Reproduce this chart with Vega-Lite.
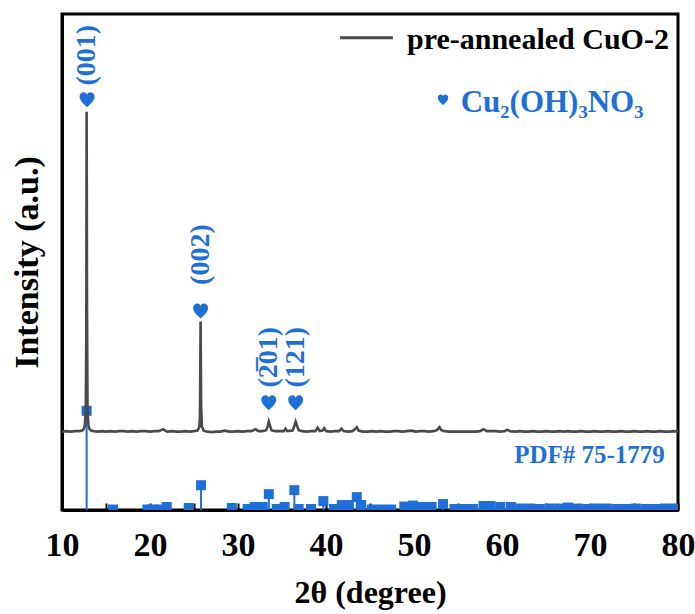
{
  "$schema": "https://vega.github.io/schema/vega-lite/v6.json",
  "width": 616,
  "height": 496,
  "autosize": {"type": "none"},
  "padding": {"left": 62, "top": 14, "right": 17, "bottom": 104},
  "background": "white",
  "config": {
    "view": {"stroke": "black", "strokeWidth": 3},
    "font": "Liberation Serif, Times New Roman, serif"
  },
  "datasets": {
    "xrd": [
      {"t": 10.0, "i": 15.8}, {"t": 10.5, "i": 15.9}, {"t": 11.0, "i": 15.8}, {"t": 11.5, "i": 15.9},
      {"t": 12.0, "i": 15.9}, {"t": 12.3, "i": 16.0}, {"t": 12.5, "i": 16.4}, {"t": 12.6, "i": 17.2},
      {"t": 12.7, "i": 19.8}, {"t": 12.76, "i": 35.0}, {"t": 12.8, "i": 80.3}, {"t": 12.84, "i": 42.0},
      {"t": 12.9, "i": 20.0}, {"t": 13.0, "i": 17.2}, {"t": 13.1, "i": 16.4}, {"t": 13.3, "i": 16.0},
      {"t": 13.6, "i": 15.9}, {"t": 14.0, "i": 15.8}, {"t": 14.5, "i": 15.9}, {"t": 15.0, "i": 15.8},
      {"t": 15.5, "i": 15.9}, {"t": 16.0, "i": 15.8}, {"t": 16.5, "i": 15.9}, {"t": 17.0, "i": 15.9},
      {"t": 17.5, "i": 15.8}, {"t": 18.0, "i": 15.9}, {"t": 18.5, "i": 15.8}, {"t": 19.0, "i": 15.9},
      {"t": 19.5, "i": 15.9}, {"t": 20.0, "i": 15.8}, {"t": 20.5, "i": 15.9}, {"t": 21.0, "i": 15.9},
      {"t": 21.5, "i": 16.3}, {"t": 21.8, "i": 15.9}, {"t": 22.0, "i": 15.8}, {"t": 22.5, "i": 15.9},
      {"t": 23.0, "i": 15.8}, {"t": 23.5, "i": 15.8}, {"t": 24.0, "i": 15.9}, {"t": 24.5, "i": 15.8},
      {"t": 25.0, "i": 15.9}, {"t": 25.4, "i": 16.0}, {"t": 25.6, "i": 16.7}, {"t": 25.68, "i": 19.0},
      {"t": 25.75, "i": 38.0}, {"t": 25.81, "i": 21.0}, {"t": 25.9, "i": 16.8}, {"t": 26.1, "i": 16.0},
      {"t": 26.5, "i": 15.8}, {"t": 27.0, "i": 15.7}, {"t": 27.5, "i": 15.8}, {"t": 28.0, "i": 15.8},
      {"t": 28.5, "i": 16.0}, {"t": 29.0, "i": 15.8}, {"t": 29.5, "i": 15.8}, {"t": 30.0, "i": 15.9},
      {"t": 30.5, "i": 15.8}, {"t": 31.0, "i": 15.9}, {"t": 31.5, "i": 15.9}, {"t": 32.0, "i": 16.3},
      {"t": 32.3, "i": 15.9}, {"t": 32.8, "i": 15.9}, {"t": 33.2, "i": 16.1}, {"t": 33.4, "i": 17.0},
      {"t": 33.5, "i": 17.8}, {"t": 33.6, "i": 17.2}, {"t": 33.8, "i": 16.1}, {"t": 34.2, "i": 15.9},
      {"t": 34.7, "i": 15.9}, {"t": 35.2, "i": 15.9}, {"t": 35.4, "i": 16.4}, {"t": 35.6, "i": 15.9},
      {"t": 36.2, "i": 16.0}, {"t": 36.4, "i": 16.9}, {"t": 36.55, "i": 17.8}, {"t": 36.7, "i": 17.0},
      {"t": 36.9, "i": 16.1}, {"t": 37.3, "i": 15.9}, {"t": 37.8, "i": 15.8}, {"t": 38.3, "i": 15.9},
      {"t": 38.8, "i": 15.9}, {"t": 39.05, "i": 16.6}, {"t": 39.3, "i": 15.9}, {"t": 39.6, "i": 16.0},
      {"t": 39.8, "i": 16.5}, {"t": 40.0, "i": 15.9}, {"t": 40.5, "i": 15.8}, {"t": 41.0, "i": 15.9},
      {"t": 41.5, "i": 15.9}, {"t": 41.75, "i": 16.4}, {"t": 42.0, "i": 15.9}, {"t": 42.5, "i": 15.8},
      {"t": 43.0, "i": 15.9}, {"t": 43.3, "i": 16.3}, {"t": 43.5, "i": 16.7}, {"t": 43.7, "i": 16.0},
      {"t": 44.2, "i": 15.8}, {"t": 44.7, "i": 15.8}, {"t": 45.2, "i": 15.9}, {"t": 45.7, "i": 15.8},
      {"t": 46.2, "i": 15.9}, {"t": 46.7, "i": 15.8}, {"t": 47.2, "i": 15.8}, {"t": 47.7, "i": 15.9},
      {"t": 48.2, "i": 15.9}, {"t": 48.7, "i": 15.8}, {"t": 49.2, "i": 15.9}, {"t": 49.7, "i": 16.0},
      {"t": 50.2, "i": 15.8}, {"t": 50.7, "i": 15.9}, {"t": 51.2, "i": 15.9}, {"t": 51.7, "i": 15.8},
      {"t": 52.2, "i": 15.9}, {"t": 52.6, "i": 16.1}, {"t": 52.9, "i": 16.7}, {"t": 53.1, "i": 16.1},
      {"t": 53.5, "i": 15.9}, {"t": 54.0, "i": 15.8}, {"t": 54.5, "i": 15.8}, {"t": 55.0, "i": 15.8},
      {"t": 55.5, "i": 15.8}, {"t": 56.0, "i": 15.8}, {"t": 56.5, "i": 15.8}, {"t": 57.0, "i": 15.8},
      {"t": 57.5, "i": 15.9}, {"t": 57.9, "i": 16.3}, {"t": 58.3, "i": 15.9}, {"t": 58.8, "i": 15.9},
      {"t": 59.3, "i": 15.9}, {"t": 59.8, "i": 15.8}, {"t": 60.3, "i": 15.9}, {"t": 60.6, "i": 16.2},
      {"t": 60.9, "i": 15.9}, {"t": 61.5, "i": 15.8}, {"t": 62.0, "i": 15.9}, {"t": 62.5, "i": 15.8},
      {"t": 63.0, "i": 15.8}, {"t": 63.5, "i": 15.9}, {"t": 64.0, "i": 15.8}, {"t": 64.5, "i": 15.8},
      {"t": 65.0, "i": 15.9}, {"t": 65.5, "i": 15.8}, {"t": 66.0, "i": 15.8}, {"t": 66.5, "i": 15.9},
      {"t": 67.0, "i": 15.8}, {"t": 67.5, "i": 15.9}, {"t": 68.0, "i": 15.8}, {"t": 68.5, "i": 15.8},
      {"t": 69.0, "i": 15.9}, {"t": 69.5, "i": 15.8}, {"t": 70.0, "i": 15.8}, {"t": 70.5, "i": 15.9},
      {"t": 71.0, "i": 15.8}, {"t": 71.5, "i": 15.8}, {"t": 72.0, "i": 15.9}, {"t": 72.5, "i": 15.8},
      {"t": 73.0, "i": 15.8}, {"t": 73.5, "i": 15.9}, {"t": 74.0, "i": 15.8}, {"t": 74.5, "i": 15.8},
      {"t": 75.0, "i": 15.9}, {"t": 75.5, "i": 15.8}, {"t": 76.0, "i": 15.8}, {"t": 76.5, "i": 15.9},
      {"t": 77.0, "i": 15.8}, {"t": 77.5, "i": 15.8}, {"t": 78.0, "i": 15.9}, {"t": 78.5, "i": 15.8},
      {"t": 79.0, "i": 15.8}, {"t": 79.5, "i": 15.9}, {"t": 80.0, "i": 15.8}
    ],
    "pdf": [
      {"t": 12.8, "h": 20.0}, {"t": 15.8, "h": 0.1}, {"t": 19.7, "h": 0.1}, {"t": 20.3, "h": 0.1},
      {"t": 21.2, "h": 0.1}, {"t": 21.9, "h": 0.6}, {"t": 24.4, "h": 0.4}, {"t": 25.8, "h": 5.0},
      {"t": 29.3, "h": 0.4}, {"t": 31.1, "h": 0.2}, {"t": 31.9, "h": 0.6}, {"t": 32.8, "h": 0.6},
      {"t": 33.5, "h": 3.2}, {"t": 34.4, "h": 0.2}, {"t": 35.3, "h": 0.6}, {"t": 36.4, "h": 4.0},
      {"t": 36.9, "h": 0.2}, {"t": 38.3, "h": 0.2}, {"t": 39.7, "h": 1.8}, {"t": 40.9, "h": 0.2},
      {"t": 41.8, "h": 1.0}, {"t": 42.6, "h": 1.0}, {"t": 43.5, "h": 2.6}, {"t": 44.0, "h": 1.0},
      {"t": 45.2, "h": 0.1}, {"t": 46.3, "h": 0.1}, {"t": 47.4, "h": 0.1}, {"t": 48.9, "h": 0.7},
      {"t": 49.9, "h": 0.9}, {"t": 51.0, "h": 0.6}, {"t": 52.0, "h": 0.6}, {"t": 53.3, "h": 1.2},
      {"t": 54.6, "h": 0.2}, {"t": 55.6, "h": 0.2}, {"t": 56.7, "h": 0.2}, {"t": 57.9, "h": 0.8},
      {"t": 58.7, "h": 0.8}, {"t": 59.8, "h": 0.6}, {"t": 61.0, "h": 0.6}, {"t": 62.1, "h": 0.3},
      {"t": 63.2, "h": 0.3}, {"t": 64.3, "h": 0.2}, {"t": 65.4, "h": 0.3}, {"t": 66.5, "h": 0.3},
      {"t": 67.5, "h": 0.5}, {"t": 68.6, "h": 0.3}, {"t": 69.7, "h": 0.2}, {"t": 70.8, "h": 0.3},
      {"t": 71.9, "h": 0.3}, {"t": 73.0, "h": 0.2}, {"t": 74.1, "h": 0.2}, {"t": 75.2, "h": 0.3},
      {"t": 76.3, "h": 0.2}, {"t": 77.4, "h": 0.2}, {"t": 78.5, "h": 0.3}, {"t": 79.5, "h": 0.3}
    ],
    "hkl": [
      {"t": 12.85, "heart": 82.7, "lab": 91.7, "plane": "(001)"},
      {"t": 25.75, "heart": 40.1, "lab": 51.5, "plane": "(002)"},
      {"t": 33.5, "heart": 21.6, "lab": 30.8, "plane": "(2̅01)"},
      {"t": 36.55, "heart": 21.6, "lab": 30.8, "plane": "(121)"}
    ],
    "one": [{}]
  },
  "layer": [
    {
      "data": {"name": "pdf"},
      "mark": {"type": "rule", "color": "#1f6fd9", "strokeWidth": 2, "clip": true},
      "encoding": {
        "x": {"field": "t", "type": "quantitative", "scale": {"domain": [10, 80], "nice": false},
          "axis": {
            "values": [10, 15, 20, 25, 30, 35, 40, 45, 50, 55, 60, 65, 70, 75, 80],
            "labelExpr": "datum.value % 10 === 0 ? datum.label : ''",
            "domainColor": "black", "domainWidth": 3,
            "tickColor": "black", "tickWidth": 2,
            "tickSize": -7,
            "labelFont": "Liberation Serif, Times New Roman, serif", "labelFontWeight": "bold", "labelFontSize": 34,
            "labelColor": "black", "labelPadding": 25, "labelFlush": false,
            "title": "2θ (degree)", "titleFont": "Liberation Serif, Times New Roman, serif", "titleFontWeight": "bold",
            "titleFontSize": 32, "titleColor": "black", "titlePadding": 15, "grid": false
          }},
        "y": {"field": "h", "type": "quantitative", "scale": {"domain": [0, 100], "nice": false},
          "axis": {
            "labels": false, "ticks": false, "grid": false,
            "domainColor": "black", "domainWidth": 3,
            "title": "Intensity (a.u.)", "titleFont": "Liberation Serif, Times New Roman, serif", "titleFontWeight": "bold",
            "titleFontSize": 34, "titleColor": "black", "titlePadding": 18
          }},
        "y2": {"datum": 0}
      }
    },
    {
      "data": {"name": "pdf"},
      "mark": {"type": "point", "shape": "square", "filled": true, "size": 100, "color": "#1f6fd9", "opacity": 1, "clip": true},
      "encoding": {
        "x": {"field": "t", "type": "quantitative"},
        "y": {"field": "h", "type": "quantitative"}
      }
    },
    {
      "data": {"name": "xrd"},
      "mark": {"type": "line", "color": "#4a4a4a", "strokeWidth": 2.6},
      "encoding": {
        "x": {"field": "t", "type": "quantitative"},
        "y": {"field": "i", "type": "quantitative"}
      }
    },
    {
      "data": {"name": "hkl"},
      "mark": {"type": "point", "filled": true, "opacity": 1, "color": "#1f6fd9", "size": 225,
        "shape": "M0,1 C-0.3,0.7 -1,0.15 -1,-0.4 C-1,-0.85 -0.6,-1 -0.45,-1 C-0.2,-1 -0.05,-0.85 0,-0.65 C0.05,-0.85 0.2,-1 0.45,-1 C0.6,-1 1,-0.85 1,-0.4 C1,0.15 0.3,0.7 0,1 Z"},
      "encoding": {
        "x": {"field": "t", "type": "quantitative"},
        "y": {"field": "heart", "type": "quantitative"}
      }
    },
    {
      "data": {"name": "hkl"},
      "mark": {"type": "text", "angle": 270, "align": "center", "baseline": "middle",
        "font": "Liberation Serif, Times New Roman, serif", "fontWeight": "bold", "fontSize": 28, "color": "#1f6fd9"},
      "encoding": {
        "x": {"field": "t", "type": "quantitative"},
        "y": {"field": "lab", "type": "quantitative"},
        "text": {"field": "plane"}
      }
    },
    {
      "data": {"name": "one"},
      "mark": {"type": "rule", "color": "#4a4a4a", "strokeWidth": 3},
      "encoding": {
        "x": {"datum": 41.6, "type": "quantitative"},
        "x2": {"datum": 47.6},
        "y": {"datum": 95.2, "type": "quantitative"}
      }
    },
    {
      "data": {"name": "one"},
      "mark": {"type": "text", "align": "left", "baseline": "alphabetic",
        "font": "Liberation Serif, Times New Roman, serif", "fontWeight": "bold", "fontSize": 30, "color": "black"},
      "encoding": {
        "x": {"datum": 49.2, "type": "quantitative"},
        "y": {"datum": 92.9, "type": "quantitative"},
        "text": {"value": "pre-annealed CuO-2"}
      }
    },
    {
      "data": {"name": "one"},
      "mark": {"type": "point", "filled": true, "opacity": 1, "color": "#1f6fd9", "size": 110,
        "shape": "M0,1 C-0.3,0.7 -1,0.15 -1,-0.4 C-1,-0.85 -0.6,-1 -0.45,-1 C-0.2,-1 -0.05,-0.85 0,-0.65 C0.05,-0.85 0.2,-1 0.45,-1 C0.6,-1 1,-0.85 1,-0.4 C1,0.15 0.3,0.7 0,1 Z"},
      "encoding": {
        "x": {"datum": 53.3, "type": "quantitative"},
        "y": {"datum": 82.7, "type": "quantitative"}
      }
    },
    {
      "data": {"name": "one"},
      "mark": {"type": "text", "align": "left", "baseline": "alphabetic",
        "font": "Liberation Serif, Times New Roman, serif", "fontWeight": "bold", "fontSize": 31, "color": "#1f6fd9"},
      "encoding": {
        "x": {"datum": 55.3, "type": "quantitative"},
        "y": {"datum": 80.2, "type": "quantitative"},
        "text": {"value": "Cu₂(OH)₃NO₃"}
      }
    },
    {
      "data": {"name": "one"},
      "mark": {"type": "text", "align": "right", "baseline": "alphabetic",
        "font": "Liberation Serif, Times New Roman, serif", "fontWeight": "bold", "fontSize": 25, "color": "#1f6fd9"},
      "encoding": {
        "x": {"datum": 78.5, "type": "quantitative"},
        "y": {"datum": 9.5, "type": "quantitative"},
        "text": {"value": "PDF# 75-1779"}
      }
    }
  ]
}
